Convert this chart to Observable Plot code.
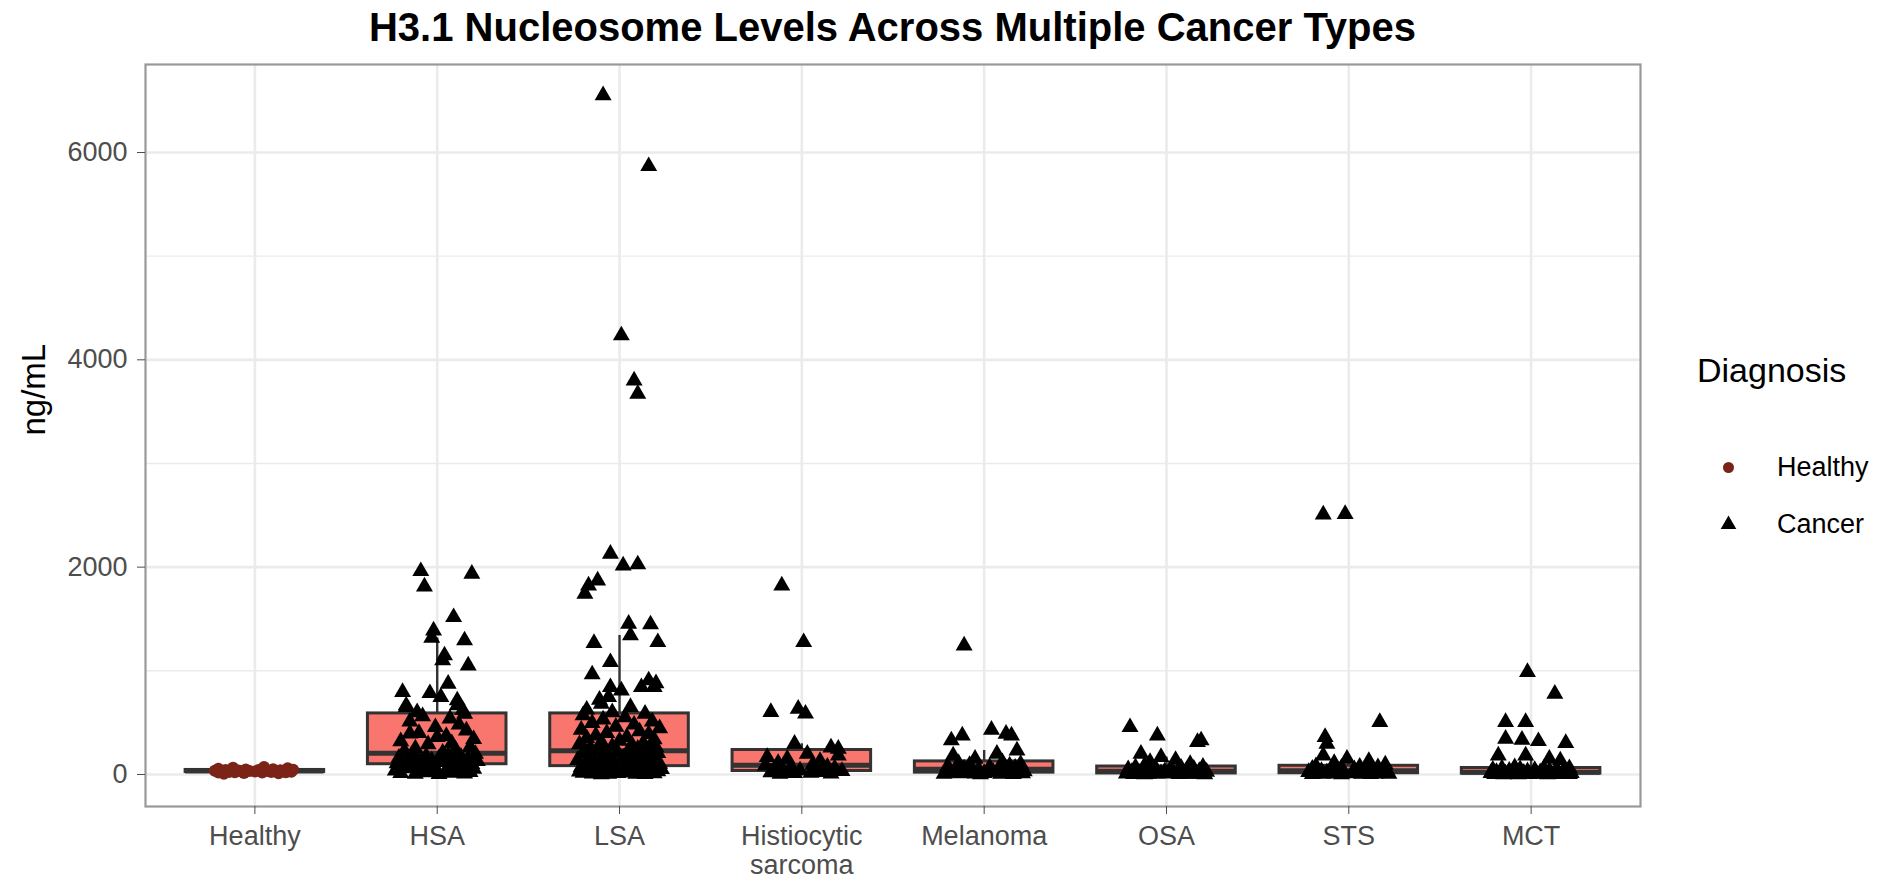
<!DOCTYPE html>
<html>
<head>
<meta charset="utf-8">
<script src="https://cdn.jsdelivr.net/npm/d3@7"></script>
<script src="https://cdn.jsdelivr.net/npm/@observablehq/plot@0.6"></script>
<style>
  body { margin: 0; background: #fff; font-family: "Liberation Sans", Arial, sans-serif; }
  #wrap { position: relative; width: 1882px; height: 881px; overflow: hidden; }
  #chart { position: absolute; left: 0; top: 0; }
  #title { position: absolute; left: 145px; width: 1495px; top: 7px; text-align: center;
           font-weight: bold; font-size: 40px; line-height: 40px; color: #000; white-space: nowrap; }
  .leg { position: absolute; white-space: nowrap; color: #000; }
  #legTitle { left: 1697px; top: 353px; font-size: 34px; line-height: 34px; }
  .legItem { left: 1700px; height: 57px; display: flex; align-items: center; font-size: 27px; }
  .legItem svg { width: 57px; height: 57px; flex: none; }
  .legItem span { margin-left: 20px; }
</style>
</head>
<body>
<div id="wrap">
  <div id="chart"></div>
  <div id="title">H3.1 Nucleosome Levels Across Multiple Cancer Types</div>
  <div id="legTitle" class="leg">Diagnosis</div>
  <div class="leg legItem" style="top:439px">
    <svg viewBox="-28.5 -28.5 57 57"><circle r="5.5" fill="#7c2318"></circle></svg><span>Healthy</span>
  </div>
  <div class="leg legItem" style="top:496px">
    <svg viewBox="-28.5 -28.5 57 57"><path d="M0,-9L7.8,4.5L-7.8,4.5Z" fill="#000"></path></svg><span>Cancer</span>
  </div>
</div>
<script>
// Diagnosis groups along the x axis
const categories = ["Healthy", "HSA", "LSA", "Histiocytic\nsarcoma", "Melanoma", "OSA", "STS", "MCT"];
const diagnosis = ["Healthy", "Cancer", "Cancer", "Cancer", "Cancer", "Cancer", "Cancer", "Cancer"];

// H3.1 nucleosome concentration (ng/mL) per sample, with the horizontal jitter of each point (category units)
const healthyValues = [72, 66, 60, 55, 51, 48, 46, 44, 42, 40, 39, 37, 36, 34, 33, 32, 31, 30, 29, 28, 27, 25, 24, 22, 21, 20, 18, 15, 12, 8];
const healthyJitter = [0.05, -0.12, 0.18, -0.2, 0.1, -0.05, 0.21, -0.16, 0.02, 0.14, -0.09, 0.19, -0.22, 0.07, -0.03, 0.12, -0.18, 0.16, -0.07, 0.0, 0.2, -0.14, 0.09, -0.11, 0.17, -0.2, 0.04, -0.06, 0.13, -0.17];

const hsaValues = [1961, 1936, 1813, 1517, 1389, 1318, 1293, 1148, 1100, 1051, 875, 794, 784, 746, 714, 666, 666, 649, 620, 600,
  585, 560, 540, 510, 480, 456, 424, 400, 395, 370, 360, 340, 320, 300, 290, 263, 250, 240, 225, 210,
  198, 190, 182, 175, 170, 160, 155, 150, 145, 140, 135, 130, 125, 120, 118, 112, 108, 105, 102, 100,
  95, 90, 85, 80, 72, 65, 60, 55, 48, 42, 38, 33, 28, 24, 20, 15, 12, 9, 6, 3];
const hsaJitter = [-0.09, 0.19, -0.07, 0.09, -0.02, -0.03, 0.15, 0.04, 0.03, 0.17, 0.06, -0.19, -0.04, 0.02, 0.11, -0.17, 0.11, -0.17, 0.14, -0.11,
  0.15, -0.08, 0.07, -0.15, 0.12, -0.01, 0.16, -0.1, -0.15, 0.05, 0.0, 0.2, -0.2, 0.08, -0.05, 0.18, -0.12, 0.1, -0.18, 0.03,
  0.21, -0.14, 0.06, -0.06, 0.13, -0.21, 0.01, 0.17, -0.11, 0.09, -0.03, 0.22, -0.17, 0.04, -0.09, 0.14, -0.22, 0.1, -0.05, 0.19,
  -0.13, 0.07, -0.19, 0.16, -0.02, 0.11, -0.16, 0.2, -0.08, 0.05, -0.23, 0.13, -0.1, 0.18, -0.04, 0.08, -0.2, 0.15, -0.12, 0.01];

const lsaValues = [6552, 5868, 4235, 3800, 3672, 2129, 2026, 2016, 1871, 1823, 1743, 1454, 1447, 1341, 1276, 1267, 1083, 965, 907, 880, 842, 842, 842, 810, 746, 720, 682, 650, 625, 600,
  585, 570, 550, 530, 510, 495, 480, 460, 445, 430, 415, 400, 390, 375, 360, 350, 338, 325, 312, 300, 290, 280, 270, 262, 255, 248, 242, 238, 235, 232,
  228, 220, 212, 205, 198, 190, 182, 175, 168, 160, 155, 150, 144, 138, 132, 126, 120, 115, 110, 106, 102, 98, 95, 92, 90, 88, 86, 84, 82, 81,
  79, 76, 72, 68, 64, 60, 56, 52, 48, 45, 42, 39, 36, 33, 30, 28, 26, 24, 22, 20, 18, 16, 14, 12, 10, 8, 7, 5, 4, 2];
const lsaJitter = [-0.09, 0.16, 0.01, 0.08, 0.1, -0.05, 0.1, 0.02, -0.12, -0.17, -0.19, 0.05, 0.17, 0.06, 0.21, -0.14, -0.05, -0.15, 0.16, 0.2, 0.12, 0.19, -0.05, 0.01, -0.06, -0.11, -0.1, 0.06, -0.18, -0.04,
  0.14, -0.2, 0.03, -0.09, 0.18, -0.15, 0.08, -0.02, 0.22, -0.21, 0.11, -0.07, 0.16, -0.13, 0.04, -0.18, 0.19, 0.0, -0.1, 0.13, -0.22, 0.07, -0.04, 0.2, -0.16, 0.1, -0.08, 0.15, -0.19, 0.05,
  -0.12, 0.17, -0.01, 0.21, -0.2, 0.09, -0.06, 0.14, -0.15, 0.02, 0.19, -0.1, 0.06, -0.23, 0.12, -0.03, 0.18, -0.17, 0.08, -0.08, 0.22, -0.13, 0.03, 0.16, -0.19, 0.11, -0.05, 0.2, -0.14, 0.07,
  -0.02, 0.13, -0.21, 0.18, -0.09, 0.05, -0.16, 0.23, -0.04, 0.1, -0.18, 0.15, -0.11, 0.02, 0.21, -0.22, 0.08, -0.07, 0.17, -0.13, 0.04, -0.2, 0.12, -0.01, 0.19, -0.15, 0.09, -0.06, 0.14, -0.1];

const histioValues = [1823, 1276, 634, 601, 586, 296, 260, 248, 200, 183, 167, 151, 130, 110, 95, 85, 75, 68, 60, 52, 45, 38, 32, 28, 24, 20, 16, 12, 8, 5];
const histioJitter = [-0.11, 0.01, -0.02, -0.17, 0.02, -0.04, 0.16, 0.2, 0.03, 0.2, -0.19, -0.08, 0.1, -0.13, 0.06, -0.2, 0.14, -0.06, 0.18, -0.15, 0.09, -0.01, 0.22, -0.1, 0.12, -0.17, 0.05, -0.04, 0.16, -0.12];

const melanomaValues = [1244, 431, 392, 376, 376, 328, 231, 200, 183, 150, 118, 108, 100, 92, 85, 78, 70, 64, 58, 52,
  48, 45, 42, 38, 35, 31, 28, 24, 21, 18, 16, 14, 13, 11, 10, 8, 7, 5, 4, 2];
const melanomaJitter = [-0.11, 0.04, 0.12, 0.15, -0.12, -0.18, 0.18, 0.07, -0.17, -0.05, 0.1, -0.14, 0.2, -0.08, 0.14, -0.2, 0.03, 0.17, -0.11, 0.08,
  -0.03, 0.19, -0.16, 0.11, -0.07, 0.22, -0.21, 0.05, -0.1, 0.15, -0.18, 0.0, 0.13, -0.13, 0.21, -0.05, 0.09, -0.22, 0.16, -0.02];

const osaValues = [456, 376, 328, 312, 200, 167, 140, 120, 100, 85, 74, 70, 65, 60, 55, 50, 45, 40, 36, 32,
  28, 26, 24, 22, 20, 18, 16, 14, 12, 10, 9, 8, 7, 6, 5, 5, 4, 3, 2, 1];
const osaJitter = [-0.2, -0.05, 0.19, 0.17, -0.14, -0.03, 0.05, -0.09, 0.13, -0.12, 0.2, -0.17, 0.08, -0.06, 0.15, -0.21, 0.02, 0.11, -0.13, 0.18,
  -0.01, 0.22, -0.19, 0.06, -0.08, 0.14, -0.15, 0.09, -0.03, 0.19, -0.22, 0.04, -0.1, 0.16, -0.05, 0.12, -0.18, 0.07, -0.12, 0.21];

const stsValues = [2512, 2508, 505, 360, 296, 183, 151, 130, 110, 95, 80, 75, 70, 65, 60, 55, 50, 46, 42, 38,
  33, 30, 28, 26, 24, 21, 18, 16, 14, 12, 11, 10, 9, 8, 7, 6, 5, 4, 3, 2];
const stsJitter = [-0.02, -0.14, 0.17, -0.13, -0.12, -0.14, -0.01, 0.11, -0.08, 0.2, -0.18, 0.06, 0.16, -0.04, 0.12, -0.2, 0.03, 0.19, -0.1, 0.09,
  -0.15, 0.14, -0.06, 0.21, -0.22, 0.05, -0.12, 0.17, -0.03, 0.1, -0.19, 0.02, 0.15, -0.08, 0.22, -0.14, 0.07, -0.2, 0.12, -0.04];

const mctValues = [987, 778, 505, 505, 344, 335, 321, 302, 183, 183, 151, 135, 70,
  60, 57, 54, 51, 48, 45, 42, 39, 36, 33, 30, 27, 24,
  20, 19, 18, 17, 16, 15, 14, 13, 12, 11, 10, 9, 8, 8, 7, 6, 6, 5, 5, 4, 4, 3, 3, 2, 2, 1];
const mctJitter = [-0.02, 0.13, -0.14, -0.03, -0.14, -0.05, 0.04, 0.19, -0.18, -0.03, 0.1, 0.16, -0.09,
  0.21, -0.16, 0.07, -0.06, 0.14, -0.21, 0.02, 0.18, -0.12, 0.1, -0.02, 0.2, -0.19,
  0.05, -0.1, 0.15, -0.17, 0.08, -0.04, 0.22, -0.22, 0.11, -0.08, 0.17, -0.14, 0.03, -0.19, 0.13, -0.06, 0.19, -0.11, 0.06, -0.2, 0.14, -0.01, 0.21, -0.15, 0.09, -0.07];

const valueSets = [healthyValues, hsaValues, lsaValues, histioValues, melanomaValues, osaValues, stsValues, mctValues];
const jitterSets = [healthyJitter, hsaJitter, lsaJitter, histioJitter, melanomaJitter, osaJitter, stsJitter, mctJitter];

const yTicks = [0, 2000, 4000, 6000];
const yMinor = [1000, 3000, 5000];

// one row per sample
const samples = valueSets.flatMap((vals, i) =>
  vals.map((v, k) => ({i, value: v, jitter: jitterSets[i][k], diagnosis: diagnosis[i]})));

// Tukey box statistics (quartiles as R type 7, whiskers to the most extreme value within 1.5 IQR)
const stats = valueSets.map((vals, i) => {
  const s = vals.slice().sort(d3.ascending);
  const q1 = d3.quantileSorted(s, 0.25), med = d3.quantileSorted(s, 0.5), q3 = d3.quantileSorted(s, 0.75);
  const iqr = q3 - q1;
  const lo = d3.min(s.filter(v => v >= q1 - 1.5 * iqr));
  const hi = d3.max(s.filter(v => v <= q3 + 1.5 * iqr));
  return {i, q1, med, q3, lo, hi};
});

const half = 0.38; // half box width in category units
const grid = "#ebebeb";
const ink = "#333333";

const chart = Plot.plot({
  width: 1882,
  height: 881,
  marginLeft: 145,
  marginRight: 242,
  marginTop: 64,
  marginBottom: 75,
  style: {fontFamily: "'Liberation Sans', Arial, sans-serif", fontSize: "27px", background: "white", color: "#4d4d4d"},
  x: {type: "linear", domain: [-0.6, 7.6]},
  y: {type: "linear", domain: [-309, 6849]},
  marks: [
    // panel grid
    Plot.ruleY(yMinor, {y: d => d, stroke: grid, strokeWidth: 1.4}),
    Plot.ruleY(yTicks, {y: d => d, stroke: grid, strokeWidth: 2.6}),
    Plot.ruleX(d3.range(categories.length), {x: d => d, stroke: grid, strokeWidth: 2.6}),
    // boxplots
    Plot.ruleX(stats, {x: "i", y1: "lo", y2: "hi", stroke: ink, strokeWidth: 2.4}),
    Plot.rectY(stats, {x1: d => d.i - half, x2: d => d.i + half, y1: "q1", y2: "q3", fill: "#F8766D", stroke: ink, strokeWidth: 3}),
    Plot.ruleY(stats, {x1: d => d.i - half, x2: d => d.i + half, y: "med", stroke: ink, strokeWidth: 5}),
    // jittered samples
    Plot.dot(samples.filter(d => d.diagnosis === "Healthy"), {x: d => d.i + d.jitter, y: "value", r: 6, symbol: "circle", fill: "#7c2318", stroke: "none"}),
    Plot.dot(samples.filter(d => d.diagnosis === "Cancer"), {x: d => d.i + d.jitter, y: "value", r: 6.3, symbol: "triangle", fill: "#000", stroke: "none"}),
    // panel border
    Plot.frame({stroke: "#999", strokeWidth: 2.2}),
    // axes
    Plot.axisY(yTicks, {tickSize: 8, tickPadding: 10, fontSize: 27, color: "#4d4d4d", tickFormat: d => String(d), label: null}),
    Plot.axisX(d3.range(categories.length), {tickSize: 8, tickPadding: 10, fontSize: 27, lineHeight: 1.07, color: "#4d4d4d", tickFormat: i => categories[i], label: null}),
    Plot.text(["ng/mL"], {frameAnchor: "left", rotate: -90, dx: -111, fontSize: 33, fill: "#000"})
  ]
});
document.getElementById("chart").appendChild(chart);
</script>
</body>
</html>
